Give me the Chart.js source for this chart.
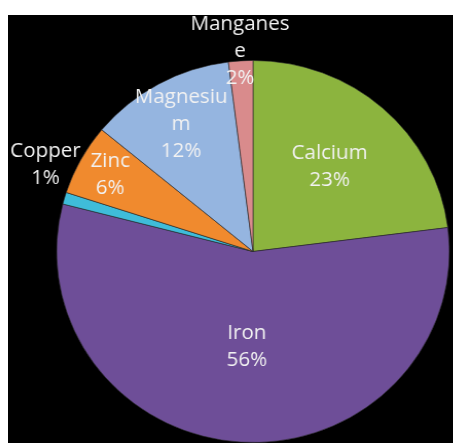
<!DOCTYPE html>
<html>
<head>
<meta charset="utf-8">
<script src="https://cdn.jsdelivr.net/npm/chart.js@4"></script>
<style>
  html, body { margin: 0; padding: 0; background: #ffffff; }
  #wrap { position: absolute; left: 8px; top: 15px; width: 445px; height: 428px; background: #000000; overflow: hidden; }
  /* the original pie is a touch wider than tall */
  #pieChart { transform: scaleX(1.028); transform-origin: 245px 50%; }
</style>
</head>
<body>
<div id="wrap"><canvas id="pieChart"></canvas></div>
<script>
// ===== DATA =====
const minerals = ["Calcium", "Iron", "Copper", "Zinc", "Magnesium", "Manganese"];
const shares = [23, 56, 1, 6, 12, 2];
// how the label text wraps (as in the original)
const labelLines = [["Calcium"], ["Iron"], ["Copper"], ["Zinc"], ["Magnesiu", "m"], ["Manganes", "e"]];

const sliceColors = ["#8cb43e", "#6e4e98", "#3fbcd9", "#f08a2e", "#95b5e0", "#d98b8c"];
// label placement: fraction of the radius, angle tweak (deg)
const labelSpots = [[0.59, 0], [0.5, 0], [1.15, 7], [0.83, 0], [0.76, 0], [1.05, 0]];

const pieLabels = {
    id: "pieLabels",
    afterDatasetsDraw(chart) {
        const ctx = chart.ctx;
        const arcs = chart.getDatasetMeta(0).data;
        const total = shares.reduce((a, b) => a + b, 0);
        ctx.save();
        ctx.font = "20px 'Open Sans'";
        ctx.fillStyle = "#f2f2f2";
        ctx.textAlign = "center";
        ctx.textBaseline = "middle";
        arcs.forEach((arc, i) => {
            const p = arc.getProps(["x", "y", "startAngle", "endAngle", "outerRadius"], true);
            const mid = (p.startAngle + p.endAngle) / 2 + labelSpots[i][1] * Math.PI / 180;
            const r = p.outerRadius * labelSpots[i][0];
            const cx = p.x + Math.cos(mid) * r;
            const cy = p.y + Math.sin(mid) * r;
            const lines = labelLines[i].concat([Math.round(shares[i] / total * 100) + "%"]);
            const lh = 27;
            const y0 = cy - (lines.length - 1) * lh / 2;
            lines.forEach((t, k) => ctx.fillText(t, cx, y0 + k * lh));
        });
        ctx.restore();
    }
};

const ctx = document.getElementById("pieChart").getContext("2d");
new Chart(ctx, {
    type: "pie",
    data: {
        labels: minerals,
        datasets: [{
            data: shares,
            backgroundColor: sliceColors,
            borderWidth: 1,
            borderColor: "rgba(40,40,40,0.6)"
        }]
    },
    options: {
        responsive: true,
        maintainAspectRatio: false,
        animation: false,
        layout: { padding: { left: 53, right: 8, top: 45, bottom: 0 } },
        plugins: {
            legend: { display: false },
            tooltip: { enabled: false }
        }
    },
    plugins: [pieLabels]
});
</script>
</body>
</html>
